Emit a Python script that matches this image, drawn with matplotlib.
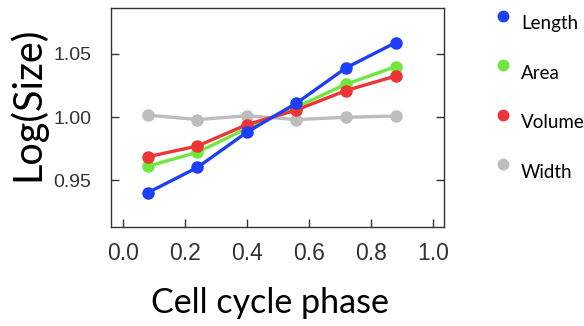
import matplotlib
matplotlib.use("Agg")
import matplotlib.pyplot as plt
from matplotlib.lines import Line2D

plt.rcParams["font.family"] = ["Liberation Sans", "DejaVu Sans"]

phase = [0.08, 0.24, 0.40, 0.56, 0.72, 0.88]
length = [0.940, 0.960, 0.988, 1.011, 1.039, 1.059]
area = [0.961, 0.972, 0.991, 1.008, 1.026, 1.040]
volume = [0.9685, 0.977, 0.994, 1.0056, 1.021, 1.0325]
width = [1.0015, 0.998, 1.001, 0.998, 0.9998, 1.0008]
length_err = [0.0025, 0.0015, 0.0015, 0.0015, 0.0015, 0.0025]
other_err = [0.0012, 0.001, 0.001, 0.001, 0.001, 0.0012]

names = ["Length", "Area", "Volume", "Width"]
colors = ["#1c3ff7", "#6fe83c", "#ee3535", "#bdbdbd"]
series = [length, area, volume, width]
errs = [length_err, other_err, other_err, other_err]

TICK = "#333333"
fig = plt.figure(figsize=(5.84, 3.26), dpi=100)
ax = fig.add_axes([0.1896, 0.3046, 0.5704, 0.6709])

# gray first so the coloured lines sit on top of it
for i in [3, 1, 2, 0]:
    ax.errorbar(phase, series[i], yerr=errs[i], color=colors[i], lw=2.4,
                marker="o", ms=8, mec=colors[i], capsize=3, capthick=1.5,
                elinewidth=1.5, zorder=3)

ax.set_xlim(-0.04, 1.036)
ax.set_ylim(0.913, 1.0865)
ax.set_xticks([0.0, 0.2, 0.4, 0.6, 0.8, 1.0])
ax.set_xticklabels(["0.0", "0.2", "0.4", "0.6", "0.8", "1.0"])
ax.set_yticks([0.95, 1.00, 1.05])
ax.set_yticklabels(["0.95", "1.00", "1.05"])
ax.tick_params(axis="both", direction="in", length=6, width=1, color="#333333",
               labelcolor=TICK)
ax.tick_params(axis="x", pad=11, labelsize=16.5)
ax.tick_params(axis="y", right=True, pad=14, labelsize=14)
for s in ax.spines.values():
    s.set_color("#333333")
    s.set_linewidth(1)

ax.set_ylabel("Log(Size)", fontsize=28.5, family="Lato", va="center")
ax.yaxis.set_label_coords(-0.251, 0.563)
ax.set_xlabel("Cell cycle phase", fontsize=24.5, family="Lato", va="center")
ax.xaxis.set_label_coords(0.478, -0.35)

# legend drawn by hand: dot above-left of each name
for k, (name, c) in enumerate(zip(names, colors)):
    y_dot = 1 - (15.7 + 49.5 * k) / 326
    y_txt = 1 - (24 + 49.5 * k) / 326
    fig.add_artist(Line2D([502.7 / 584], [y_dot], marker="o", ms=7.5,
                          color=c, transform=fig.transFigure))
    fig.text(521 / 584, y_txt, name, fontsize=13.5, family="Lato",
             va="center", ha="left")

fig.savefig("out.png", dpi=100)
